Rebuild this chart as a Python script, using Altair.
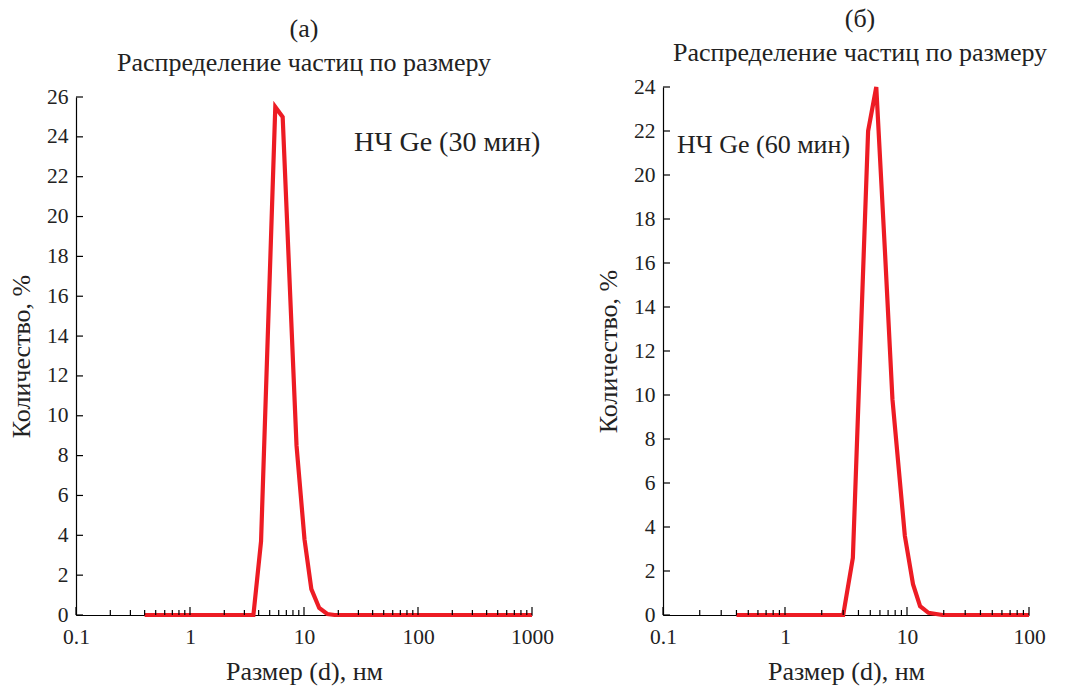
import altair as alt
import pandas as pd

# Particle size distribution, Ge nanoparticles (DLS, number-weighted)
size_a = [0.4, 3.6, 4.2, 5.6, 6.5, 8.6, 10.1, 11.6, 13.6, 16.0, 18.5, 1000]
count_a = [0, 0, 3.7, 25.5, 25.0, 8.5, 3.8, 1.3, 0.35, 0.05, 0, 0]

size_b = [0.4, 3.0, 3.6, 4.8, 5.6, 6.6, 7.6, 9.6, 11.2, 12.8, 15.0, 19.5, 100]
count_b = [0, 0, 2.6, 22.0, 24.0, 16.5, 9.8, 3.6, 1.4, 0.4, 0.1, 0, 0]

panel_a = "(а)"
panel_b = "(б)"
subtitle = "Распределение частиц по размеру"
label_a = "НЧ Ge (30 мин)"
label_b = "НЧ Ge (60 мин)"
x_title = "Размер (d), нм"
y_title = "Количество, %"

x_labels_a = [0.1, 1, 10, 100, 1000]
x_labels_b = [0.1, 1, 10, 100]
y_ticks_a = list(range(0, 27, 2))
y_ticks_b = list(range(0, 25, 2))

FONT = "Liberation Serif"
RED = "#ED1C24"
FS = 26      # titles
LFS = 21.5   # tick labels
TXT = "#222222"
H = 528      # plot height shared by both panels


def minor_ticks(majors):
    out = []
    for m in majors[:-1]:
        out += [m * k for k in range(2, 10)]
    return out


def panel(sizes, counts, xmax, ymax, xlabels, yticks, title, label,
          width, y_top, title_dx, lab_x, lab_y, lab_size):
    xs = alt.Scale(type="log", domain=[0.1, xmax])
    ys = alt.Scale(domain=[0, ymax], nice=False, zero=True, range=[H, y_top])
    x_axis = alt.Axis(values=xlabels, format="~g", ticks=False, grid=False,
                      labelPadding=11, titlePadding=11, labelFlush=False)
    y_axis = alt.Axis(values=yticks, ticks=False, grid=False,
                      labelPadding=8, titlePadding=12)

    def X(field):
        return alt.X(field, scale=xs, title=x_title, axis=x_axis)

    def Y(field):
        return alt.Y(field, scale=ys, title=y_title, axis=y_axis)

    line = alt.Chart(pd.DataFrame({"d": sizes, "n": counts})).mark_line(
        color=RED, strokeWidth=4.2, strokeJoin="miter", clip=False
    ).encode(x=X("d:Q"), y=Y("n:Q"))

    # inward-pointing tick marks along both axes
    major = alt.Chart(pd.DataFrame({"d": xlabels})).mark_rule(
        color="black", strokeWidth=1.2
    ).encode(x=X("d:Q"), y=alt.value(H), y2=alt.value(H - 8))
    minor = alt.Chart(pd.DataFrame({"d": minor_ticks(xlabels)})).mark_rule(
        color="black", strokeWidth=1.2
    ).encode(x=X("d:Q"), y=alt.value(H), y2=alt.value(H - 5))
    yt = alt.Chart(pd.DataFrame({"n": yticks})).mark_rule(
        color="black", strokeWidth=1.2
    ).encode(y=Y("n:Q"), x=alt.value(0), x2=alt.value(7))

    note = alt.Chart(pd.DataFrame({"t": [label]})).mark_text(
        align="left", baseline="middle", font=FONT, fontSize=lab_size, color=TXT
    ).encode(text="t:N", x=alt.value(lab_x), y=alt.value(lab_y))

    return alt.layer(line, major, minor, yt, note).properties(
        width=width, height=H,
        title=alt.TitleParams(
            text=title, subtitle=subtitle, anchor="middle",
            offset=10, dx=title_dx,
        ),
    )


a = panel(size_a, count_a, 1000, 26, x_labels_a, y_ticks_a, panel_a, label_a,
          456, 10, 0, 278, 56, 28)
b = panel(size_b, count_b, 100, 24, x_labels_b, y_ticks_b, panel_b, label_b,
          366, 0, 14, 14, 58, 26)

chart = alt.hconcat(a, b, spacing=41).properties(
    padding={"left": 8, "top": 6, "right": 5, "bottom": 5}
).configure_view(stroke=None).configure_axis(
    domainColor="black", domainWidth=1.2,
    labelFont=FONT, labelFontSize=LFS, labelColor=TXT,
    titleFont=FONT, titleFontSize=FS, titleFontWeight="normal", titleColor=TXT,
).configure_title(
    font=FONT, fontSize=FS, fontWeight="normal", color=TXT,
    subtitleFont=FONT, subtitleFontSize=FS, subtitleColor=TXT,
    subtitlePadding=8,
)

chart.save("out.html", embed_options={"renderer": "svg", "actions": False})
